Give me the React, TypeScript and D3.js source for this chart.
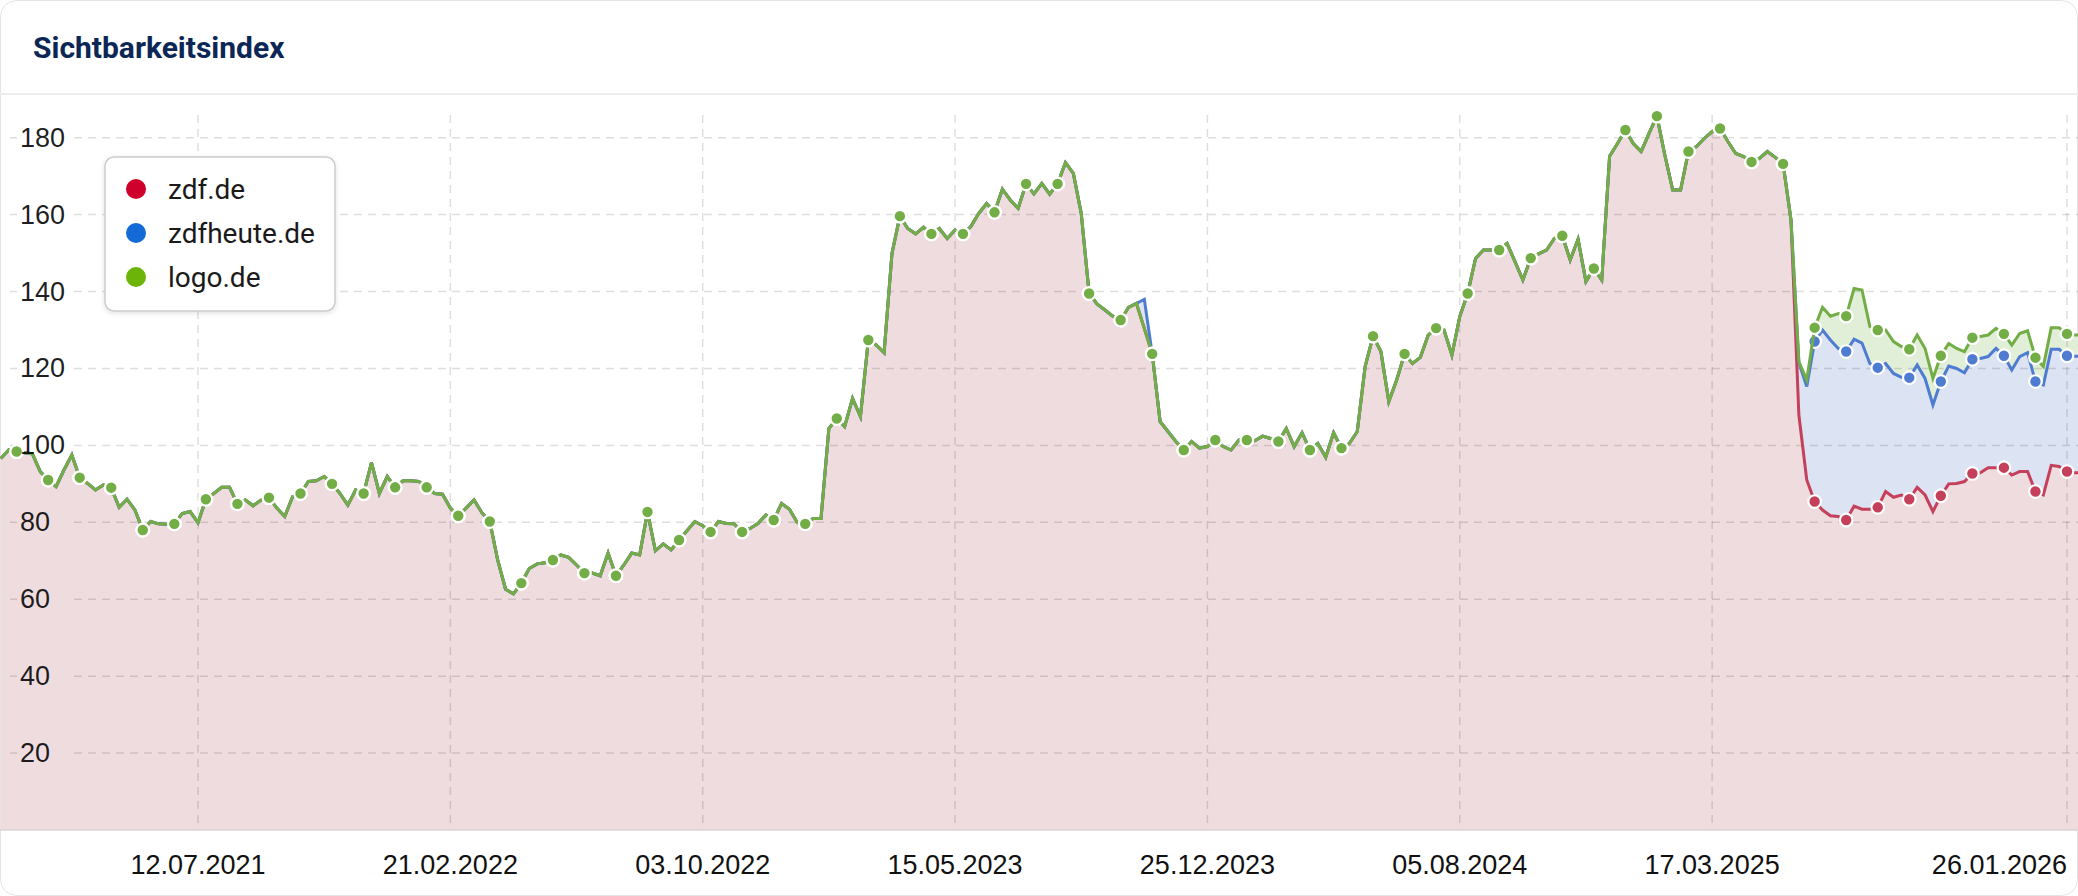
import React from 'react';
import * as d3 from 'd3';

// ---------- data ----------
const firstWeek = '2021-01-18';

// weekly values shared by all three domains (identical until the split in spring 2025)
const sharedHistory = [
  96.6, 98.8, 98.4, 98.1, 97.8, 93.2, 91.0, 89.3, 93.6, 97.5,
  91.6, 90.1, 88.4, 89.7, 89.0, 83.9, 86.0, 83.2, 78.0, 80.2,
  79.6, 79.5, 79.6, 82.3, 82.8, 79.9, 86.0, 87.5, 89.1, 89.1,
  84.8, 85.8, 84.3, 85.8, 86.4, 83.7, 81.5, 86.7, 87.5, 90.6,
  90.8, 91.9, 90.0, 87.5, 84.5, 88.4, 87.5, 95.5, 87.5, 91.9,
  89.1, 90.8, 90.8, 90.6, 89.1, 87.5, 87.3, 83.7, 81.7, 83.7,
  85.8, 82.5, 80.2, 70.2, 62.6, 61.4, 64.2, 68.0, 69.2, 69.5,
  70.2, 71.5, 70.9, 68.9, 66.8, 66.8, 66.1, 72.0, 66.1, 68.9,
  72.0, 71.5, 82.7, 72.6, 74.4, 72.8, 75.4, 77.8, 80.2, 79.1,
  77.5, 80.2, 79.7, 79.6, 77.5, 78.4, 79.7, 81.9, 80.6, 84.9,
  83.4, 79.9, 79.6, 81.0, 81.0, 104.4, 107.0, 104.9, 112.2, 107.5,
  127.4, 126.1, 124.1, 149.9, 159.6, 156.4, 155.0, 156.7, 155.0, 156.4,
  153.8, 156.0, 155.0, 156.9, 160.3, 162.9, 160.6, 166.6, 163.8, 161.6,
  168.0, 165.4, 168.1, 165.3, 168.0, 173.5, 170.7, 160.3, 139.5, 136.8,
  135.2, 133.6, 132.6, 135.9, 136.9, 130.4, 123.8, 106.2, 103.6, 101.0,
  98.8, 101.0, 99.3, 99.7, 101.4, 99.7, 98.8, 101.4, 101.4, 101.2,
  102.4, 101.8, 101.0, 104.4, 99.7, 103.3, 98.8, 100.5, 96.9, 103.3,
  99.3, 100.5, 103.6, 120.5, 128.4, 124.4, 111.4, 117.0, 123.8, 121.3,
  122.9, 128.7, 130.5, 130.0, 123.5, 133.5, 139.5, 148.6, 150.8, 150.8,
  150.8, 152.5, 147.8, 143.0, 148.7, 149.8, 150.8, 153.8, 154.5, 148.2,
  153.6, 142.6, 146.0, 143.0, 175.2, 178.5, 182.0, 178.5, 176.4, 181.1,
  185.6, 175.5, 166.4, 166.4, 176.4, 177.7, 179.8, 181.6, 182.4, 179.0,
  175.9, 175.1, 173.7, 174.6, 176.4, 174.9, 173.2, 158.6,
];

// single week where zdfheute.de differs from the shared history (index, value)
const zdfheuteHistoryDeviation = [145, 138.0];

const zdfTail = [
  107.9, 91.0, 85.4, 83.2, 81.7, 81.5, 80.6, 84.2, 83.4, 83.4,
  83.9, 88.0, 86.5, 87.1, 86.0, 89.1, 87.1, 82.8, 86.9, 90.0,
  90.1, 90.6, 92.7, 92.9, 94.2, 94.2, 94.2, 92.3, 93.2, 93.2,
  88.0, 87.1, 94.8, 94.5, 93.2, 92.9, 92.9,
];
const zdfheuteTail = [
  121.5, 115.3, 127.0, 130.0, 127.4, 125.2, 124.4, 127.6, 126.6, 121.3,
  120.2, 121.3, 118.7, 117.7, 117.6, 120.9, 117.4, 110.5, 116.6, 120.6,
  120.0, 118.9, 122.4, 122.6, 123.1, 125.2, 123.3, 119.6, 123.1, 124.1,
  116.6, 115.7, 125.0, 125.0, 123.3, 123.2, 123.2,
];
const logoTail = [
  121.8, 117.0, 130.6, 135.9, 133.6, 134.3, 133.6, 140.8, 140.4, 130.9,
  130.0, 130.0, 127.0, 125.7, 125.0, 128.7, 125.2, 117.4, 123.3, 126.5,
  125.2, 124.4, 128.0, 128.3, 128.7, 130.4, 129.0, 126.1, 129.1, 129.8,
  122.8, 120.5, 130.6, 130.6, 129.0, 128.7, 128.7,
];

const seriesNames = ['zdf.de', 'zdfheute.de', 'logo.de'];
const xTickLabels = [
  '12.07.2021', '21.02.2022', '03.10.2022', '15.05.2023',
  '25.12.2023', '05.08.2024', '17.03.2025', '26.01.2026',
];
const yTicks = [20, 40, 60, 80, 100, 120, 140, 160, 180];

const zdfValues = [...sharedHistory, ...zdfTail];
const zdfheuteValues = [
  ...sharedHistory.map((v, i) => (i === zdfheuteHistoryDeviation[0] ? zdfheuteHistoryDeviation[1] : v)),
  ...zdfheuteTail,
];
const logoValues = [...sharedHistory, ...logoTail];

// ---------- styles ----------
const W = 2078;
const H = 896;
const styles = [
  { line: '#c5405a', fill: '#efdcdf', legend: '#d0002c' },
  { line: '#4d7cd1', fill: '#dce3f2', legend: '#1469d6' },
  { line: '#72ad45', fill: '#e2efd8', legend: '#6cb40a' },
];

const parseDMY = d3.utcParse('%d.%m.%Y');
const parseISO = d3.utcParse('%Y-%m-%d');

export default function App() {
  const start = parseISO(firstWeek) as Date;
  const seriesValues = [zdfValues, zdfheuteValues, logoValues];
  const dates = zdfValues.map((_, i) => d3.utcWeek.offset(start, i));

  const x = d3
    .scaleUtc()
    .domain([parseDMY(xTickLabels[0]) as Date, parseDMY(xTickLabels[xTickLabels.length - 1]) as Date])
    .range([198, 2067]);
  const y = d3.scaleLinear().domain([0, 180]).range([830, 137.7]);
  const plotTop = 115;
  const base = y(0);

  const area = d3
    .area<number>()
    .x((_, i) => x(dates[i]))
    .y0(base)
    .y1((d) => y(d));
  const line = d3
    .line<number>()
    .x((_, i) => x(dates[i]))
    .y((d) => y(d));

  const gridColor = 'rgba(0,0,0,0.13)';
  const fillOrder = [2, 1, 0];
  const lineOrder = [0, 1, 2];

  return (
    <div style={{ position: 'absolute', left: 0, top: 0 }}>
      <svg width={W} height={H} style={{ display: 'block' }}>
        <defs>
          <filter id="legendShadow" x="-10%" y="-10%" width="120%" height="130%">
            <feDropShadow dx="0" dy="1.5" stdDeviation="2.5" floodColor="#000" floodOpacity="0.12" />
          </filter>
          <clipPath id="card">
            <rect x={0} y={0} width={W} height={H} rx={16} />
          </clipPath>
        </defs>
        <rect x={0.5} y={0.5} width={W - 1} height={H - 1} rx={16} fill="#fff" stroke="#e4e4e4" />
        <g clipPath="url(#card)">
          <line x1={0} x2={W} y1={94} y2={94} stroke="#ececec" strokeWidth={2} />

          {fillOrder.map((s) => (
            <path key={'a' + s} d={area(seriesValues[s]) || ''} fill={styles[s].fill} />
          ))}

          {yTicks.map((t) => (
            <g key={'gy' + t}>
              <line x1={10} x2={17} y1={y(t)} y2={y(t)} stroke={gridColor} strokeWidth={1.5} />
              <line x1={74} x2={W} y1={y(t)} y2={y(t)} stroke={gridColor} strokeWidth={1.5} strokeDasharray="8 6" />
            </g>
          ))}
          {xTickLabels.map((l) => {
            const xp = x(parseDMY(l) as Date);
            return (
              <line key={'gx' + l} x1={xp} x2={xp} y1={plotTop} y2={base} stroke={gridColor} strokeWidth={1.5} strokeDasharray="8 6" />
            );
          })}
          <line x1={0} x2={W} y1={base} y2={base} stroke="#dbd3d4" strokeWidth={1.5} />

          {lineOrder.map((s) => (
            <g key={'s' + s}>
              <path d={line(seriesValues[s]) || ''} fill="none" stroke={styles[s].line} strokeWidth={3} />
              {seriesValues[s].map((v, i) =>
                i % 4 === 2 ? (
                  <circle key={i} cx={x(dates[i])} cy={y(v)} r={6.3} fill={styles[s].line} stroke="#fff" strokeWidth={2.2} />
                ) : null
              )}
            </g>
          ))}

          {yTicks.map((t) => (
            <text
              key={'ty' + t}
              x={20}
              y={y(t)}
              dominantBaseline="central"
              fontFamily="'Liberation Sans', Arial, sans-serif"
              fontSize={27}
              fill="rgba(0,0,0,0.88)"
            >
              {t}
            </text>
          ))}
          {xTickLabels.map((l, i) => {
            const xp = x(parseDMY(l) as Date);
            const last = i === xTickLabels.length - 1;
            return (
              <text
                key={'tx' + l}
                x={xp}
                y={874}
                textAnchor={last ? 'end' : 'middle'}
                fontFamily="'Liberation Sans', Arial, sans-serif"
                fontSize={27}
                fill="#111"
              >
                {l}
              </text>
            );
          })}

          <g>
            <rect x={105} y={157} width={230} height={154} rx={9} fill="#fff" stroke="#cbcbcb" strokeWidth={1.5} filter="url(#legendShadow)" />
            {seriesNames.map((n, i) => (
              <g key={n}>
                <circle cx={136} cy={189 + i * 44} r={10} fill={styles[i].legend} />
                <text
                  x={168}
                  y={189 + i * 44}
                  dominantBaseline="central"
                  fontFamily="Roboto, 'Liberation Sans', sans-serif"
                  fontSize={28}
                  fill="#1a1a1a"
                >
                  {n}
                </text>
              </g>
            ))}
          </g>

          <text x={33} y={58} fontFamily="Roboto, sans-serif" fontWeight={700} fontSize={30} fill="#0c2756">
            Sichtbarkeitsindex
          </text>
        </g>
      </svg>
    </div>
  );
}
